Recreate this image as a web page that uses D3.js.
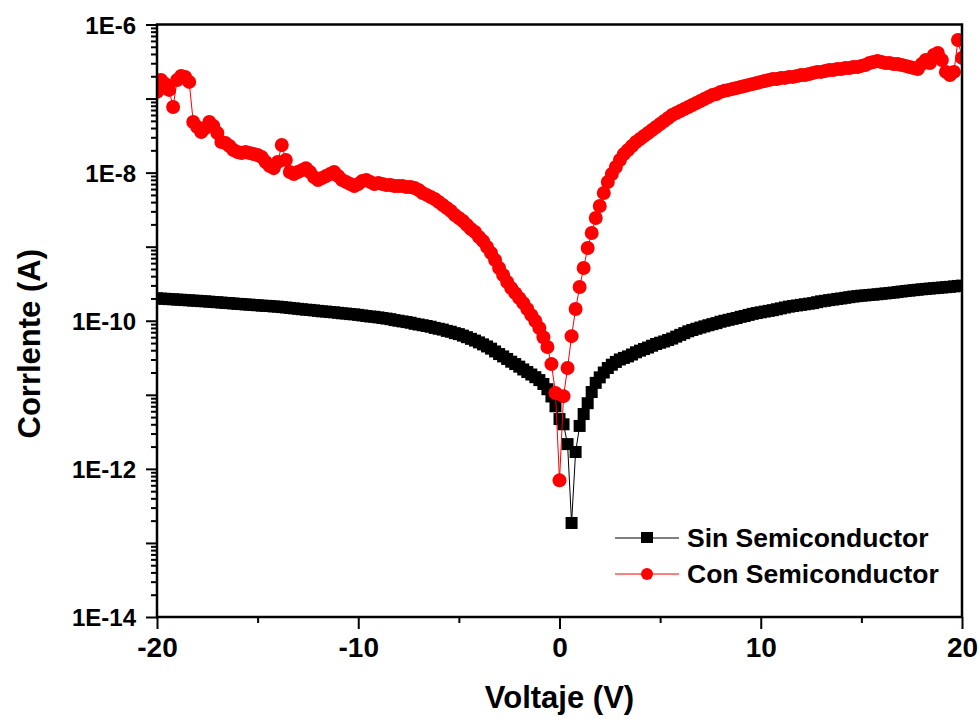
<!DOCTYPE html>
<html>
<head>
<meta charset="utf-8">
<script src="https://cdn.jsdelivr.net/npm/d3@7/dist/d3.min.js"></script>
<style>
  body { margin: 0; background: #fff; }
  svg { display: block; }
  text { font-family: "Liberation Sans", Arial, Helvetica, sans-serif; font-weight: bold; fill: #000; }
</style>
</head>
<body>
<svg id="chart" width="980" height="719"></svg>
<script>
// Voltage sweep (V), 0.2 V steps
const voltaje = [
  -20,-19.8,-19.6,-19.4,-19.2,-19,-18.8,-18.6,-18.4,-18.2,
  -18,-17.8,-17.6,-17.4,-17.2,-17,-16.8,-16.6,-16.4,-16.2,
  -16,-15.8,-15.6,-15.4,-15.2,-15,-14.8,-14.6,-14.4,-14.2,
  -14,-13.8,-13.6,-13.4,-13.2,-13,-12.8,-12.6,-12.4,-12.2,
  -12,-11.8,-11.6,-11.4,-11.2,-11,-10.8,-10.6,-10.4,-10.2,
  -10,-9.8,-9.6,-9.4,-9.2,-9,-8.8,-8.6,-8.4,-8.2,
  -8,-7.8,-7.6,-7.4,-7.2,-7,-6.8,-6.6,-6.4,-6.2,
  -6,-5.8,-5.6,-5.4,-5.2,-5,-4.8,-4.6,-4.4,-4.2,
  -4,-3.8,-3.6,-3.4,-3.2,-3,-2.8,-2.6,-2.4,-2.2,
  -2,-1.8,-1.6,-1.4,-1.2,-1,-0.8,-0.6,-0.4,-0.2,
  0,0.2,0.4,0.6,0.8,1,1.2,1.4,1.6,1.8,
  2,2.2,2.4,2.6,2.8,3,3.2,3.4,3.6,3.8,
  4,4.2,4.4,4.6,4.8,5,5.2,5.4,5.6,5.8,
  6,6.2,6.4,6.6,6.8,7,7.2,7.4,7.6,7.8,
  8,8.2,8.4,8.6,8.8,9,9.2,9.4,9.6,9.8,
  10,10.2,10.4,10.6,10.8,11,11.2,11.4,11.6,11.8,
  12,12.2,12.4,12.6,12.8,13,13.2,13.4,13.6,13.8,
  14,14.2,14.4,14.6,14.8,15,15.2,15.4,15.6,15.8,
  16,16.2,16.4,16.6,16.8,17,17.2,17.4,17.6,17.8,
  18,18.2,18.4,18.6,18.8,19,19.2,19.4,19.6,19.8,
  20
];

// Current (A) without semiconductor
const sinSemiconductor = [
  2.01e-10,1.99e-10,1.98e-10,1.96e-10,1.95e-10,1.93e-10,1.92e-10,1.90e-10,1.89e-10,1.87e-10,
  1.86e-10,1.84e-10,1.83e-10,1.81e-10,1.79e-10,1.78e-10,1.76e-10,1.74e-10,1.73e-10,1.71e-10,
  1.69e-10,1.68e-10,1.66e-10,1.65e-10,1.63e-10,1.62e-10,1.60e-10,1.59e-10,1.58e-10,1.56e-10,
  1.55e-10,1.53e-10,1.51e-10,1.49e-10,1.47e-10,1.45e-10,1.43e-10,1.41e-10,1.40e-10,1.38e-10,
  1.36e-10,1.34e-10,1.33e-10,1.31e-10,1.30e-10,1.28e-10,1.26e-10,1.25e-10,1.23e-10,1.22e-10,
  1.20e-10,1.18e-10,1.16e-10,1.14e-10,1.13e-10,1.11e-10,1.09e-10,1.07e-10,1.05e-10,1.02e-10,
  1.00e-10,9.8e-11,9.6e-11,9.4e-11,9.1e-11,8.9e-11,8.7e-11,8.5e-11,8.3e-11,8.0e-11,
  7.8e-11,7.6e-11,7.3e-11,7.1e-11,6.8e-11,6.6e-11,6.3e-11,6.0e-11,5.7e-11,5.4e-11,
  5.1e-11,4.8e-11,4.5e-11,4.2e-11,3.85e-11,3.55e-11,3.3e-11,3.05e-11,2.8e-11,2.6e-11,
  2.4e-11,2.2e-11,2.03e-11,1.88e-11,1.73e-11,1.58e-11,1.40e-11,1.19e-11,9.5e-12,7.0e-12,
  4.7e-12,4.0e-12,2.16e-12,1.86e-13,1.69e-12,3.8e-12,5.5e-12,7.7e-12,1.09e-11,1.45e-11,
  1.72e-11,2.0e-11,2.3e-11,2.55e-11,2.78e-11,3.0e-11,3.15e-11,3.3e-11,3.5e-11,3.75e-11,
  3.95e-11,4.15e-11,4.35e-11,4.6e-11,4.85e-11,5.05e-11,5.25e-11,5.5e-11,5.75e-11,6.1e-11,
  6.45e-11,6.8e-11,7.2e-11,7.5e-11,7.8e-11,8.1e-11,8.4e-11,8.7e-11,9.0e-11,9.3e-11,
  9.7e-11,1.00e-10,1.03e-10,1.06e-10,1.09e-10,1.13e-10,1.16e-10,1.20e-10,1.24e-10,1.27e-10,
  1.30e-10,1.33e-10,1.36e-10,1.39e-10,1.43e-10,1.47e-10,1.51e-10,1.55e-10,1.58e-10,1.61e-10,
  1.64e-10,1.67e-10,1.70e-10,1.73e-10,1.78e-10,1.83e-10,1.86e-10,1.90e-10,1.93e-10,1.97e-10,
  2.00e-10,2.04e-10,2.08e-10,2.12e-10,2.15e-10,2.18e-10,2.20e-10,2.23e-10,2.25e-10,2.28e-10,
  2.31e-10,2.34e-10,2.37e-10,2.40e-10,2.44e-10,2.48e-10,2.52e-10,2.55e-10,2.59e-10,2.62e-10,
  2.66e-10,2.69e-10,2.72e-10,2.75e-10,2.78e-10,2.81e-10,2.84e-10,2.87e-10,2.91e-10,2.95e-10,
  2.98e-10
];

// Current (A) with semiconductor
const conSemiconductor = [
  1.23e-7,1.78e-7,1.57e-7,1.31e-7,7.7e-8,1.78e-7,2.02e-7,1.96e-7,1.68e-7,4.82e-8,
  4.13e-8,3.54e-8,4.0e-8,4.82e-8,4.26e-8,3.43e-8,2.59e-8,2.51e-8,2.29e-8,2.02e-8,
  1.90e-8,1.84e-8,1.90e-8,1.84e-8,1.78e-8,1.73e-8,1.62e-8,1.39e-8,1.23e-8,1.15e-8,
  1.39e-8,2.36e-8,1.48e-8,1.02e-8,9.6e-9,1.02e-8,1.08e-8,1.15e-8,1.02e-8,8.7e-9,
  7.95e-9,8.45e-9,9.0e-9,9.6e-9,1.02e-8,9.0e-9,7.95e-9,7.46e-9,7.0e-9,6.6e-9,
  7.0e-9,7.7e-9,7.95e-9,7.46e-9,7.0e-9,7.24e-9,7.0e-9,6.8e-9,6.8e-9,6.6e-9,
  6.6e-9,6.6e-9,6.4e-9,6.4e-9,6.2e-9,5.83e-9,5.3e-9,5.0e-9,4.69e-9,4.41e-9,
  4.01e-9,3.66e-9,3.33e-9,3.03e-9,2.68e-9,2.44e-9,2.22e-9,1.96e-9,1.73e-9,1.58e-9,
  1.35e-9,1.19e-9,9.9e-10,8.2e-10,6.6e-10,5.15e-10,4.14e-10,3.33e-10,2.76e-10,2.36e-10,
  2.02e-10,1.73e-10,1.44e-10,1.19e-10,9.9e-11,7.98e-11,6.0e-11,4.42e-11,2.6e-11,1.06e-11,
  7.0e-13,9.6e-12,2.3e-11,6.2e-11,1.44e-10,2.85e-10,5.15e-10,9.6e-10,1.53e-9,2.44e-9,
  3.54e-9,5.3e-9,7.46e-9,9.6e-9,1.19e-8,1.48e-8,1.78e-8,2.02e-8,2.29e-8,2.59e-8,
  2.84e-8,3.12e-8,3.43e-8,3.76e-8,4.13e-8,4.53e-8,4.97e-8,5.46e-8,5.99e-8,6.38e-8,
  6.79e-8,7.23e-8,7.69e-8,8.19e-8,8.71e-8,9.27e-8,9.87e-8,1.05e-7,1.12e-7,1.15e-7,
  1.23e-7,1.27e-7,1.31e-7,1.35e-7,1.39e-7,1.43e-7,1.48e-7,1.53e-7,1.57e-7,1.62e-7,
  1.68e-7,1.73e-7,1.78e-7,1.84e-7,1.84e-7,1.90e-7,1.90e-7,1.96e-7,1.96e-7,2.02e-7,
  2.08e-7,2.08e-7,2.15e-7,2.22e-7,2.29e-7,2.29e-7,2.36e-7,2.43e-7,2.43e-7,2.51e-7,
  2.51e-7,2.59e-7,2.59e-7,2.67e-7,2.67e-7,2.76e-7,2.84e-7,3.02e-7,3.12e-7,3.22e-7,
  3.12e-7,3.02e-7,3.02e-7,2.93e-7,2.93e-7,2.84e-7,2.76e-7,2.67e-7,2.59e-7,2.51e-7,
  2.93e-7,3.32e-7,3.02e-7,3.88e-7,4.13e-7,3.32e-7,2.29e-7,2.08e-7,2.29e-7,6.18e-7,
  3.54e-7
];

// Axis ticks
const xMajorTicks = [-20, -10, 0, 10, 20];
const xMinorTicks = [-15, -5, 5, 15];
const yDecadeTicks = [1e-14, 1e-13, 1e-12, 1e-11, 1e-10, 1e-9, 1e-8, 1e-7, 1e-6];
const yLabelTicks = [1e-14, 1e-12, 1e-10, 1e-8, 1e-6];

const seriesNames = ["Sin Semiconductor", "Con Semiconductor"];
const seriesColors = ["#000000", "#ff0000"];

const svg = d3.select("#chart");
const margin = { left: 157, right: 18, top: 24.5, bottom: 102 };
const W = 980, H = 719;
const plotW = W - margin.left - margin.right;
const plotH = H - margin.top - margin.bottom;

const x = d3.scaleLinear().domain([-20, 20]).range([0, plotW]);
const y = d3.scaleLog().domain([1e-14, 1e-6]).range([plotH, 0]);

const g = svg.append("g").attr("transform", `translate(${margin.left},${margin.top})`);

g.append("defs").append("clipPath").attr("id", "plotClip")
  .append("rect").attr("x", 0).attr("y", 0).attr("width", plotW).attr("height", plotH);

// minor y ticks: 2..9 within each decade
const yMinorTicks = [];
yDecadeTicks.slice(0, -1).forEach(d => {
  for (let m = 2; m <= 9; m++) yMinorTicks.push(d * m);
});

function styleAxis(sel) {
  sel.select(".domain").remove();
  sel.selectAll(".tick line").attr("stroke", "#000").attr("stroke-width", 2);
}

// y axis
g.append("g").call(d3.axisLeft(y).tickValues(yMinorTicks).tickSize(6).tickFormat(""))
  .call(styleAxis);
g.append("g").call(
    d3.axisLeft(y).tickValues(yDecadeTicks).tickSize(11).tickPadding(10)
      .tickFormat(d => yLabelTicks.some(t => Math.abs(Math.log10(t) - Math.log10(d)) < 1e-6)
        ? "1E" + Math.round(Math.log10(d)) : ""))
  .call(styleAxis)
  .call(s => s.selectAll("text").style("font-size", "24px").attr("dy", "0.36em"));

// x axis
g.append("g").attr("transform", `translate(0,${plotH})`)
  .call(d3.axisBottom(x).tickValues(xMinorTicks).tickSize(6).tickFormat(""))
  .call(styleAxis);
g.append("g").attr("transform", `translate(0,${plotH})`)
  .call(d3.axisBottom(x).tickValues(xMajorTicks).tickSize(12).tickPadding(8).tickFormat(d => String(d)))
  .call(styleAxis)
  .call(s => s.selectAll("text").style("font-size", "28px"));

// data
const series = [sinSemiconductor, conSemiconductor].map((vals, k) => ({
  name: seriesNames[k],
  color: seriesColors[k],
  points: voltaje.map((v, i) => ({ v, c: vals[i] }))
}));

const line = d3.line().x(d => x(d.v)).y(d => y(d.c));
const plot = g.append("g").attr("clip-path", "url(#plotClip)");

// black squares
const s0 = series[0];
plot.append("path").datum(s0.points).attr("d", line)
  .attr("fill", "none").attr("stroke", s0.color).attr("stroke-width", 1);
plot.append("g").selectAll("rect").data(s0.points).join("rect")
  .attr("x", d => x(d.v) - 6).attr("y", d => y(d.c) - 6)
  .attr("width", 12).attr("height", 12).attr("fill", s0.color);

// red circles
const s1 = series[1];
plot.append("path").datum(s1.points).attr("d", line)
  .attr("fill", "none").attr("stroke", s1.color).attr("stroke-width", 1);
plot.append("g").selectAll("circle").data(s1.points).join("circle")
  .attr("cx", d => x(d.v)).attr("cy", d => y(d.c)).attr("r", 7)
  .attr("fill", s1.color);

// frame
g.append("rect").attr("x", 0).attr("y", 0).attr("width", plotW).attr("height", plotH)
  .attr("fill", "none").attr("stroke", "#000").attr("stroke-width", 2.5);

// axis titles
svg.append("text").attr("x", margin.left + plotW / 2).attr("y", 708)
  .attr("text-anchor", "middle").style("font-size", "31px").text("Voltaje (V)");
svg.append("text").attr("transform", `translate(40,${margin.top + plotH / 2 + 23}) rotate(-90)`)
  .attr("text-anchor", "middle").style("font-size", "31px").text("Corrlente (A)");

// legend
const legend = svg.append("g").attr("transform", "translate(615,538)");
series.forEach((s, k) => {
  const row = legend.append("g").attr("transform", `translate(0,${k * 36})`);
  row.append("line").attr("x1", 0).attr("x2", 64).attr("y1", 0).attr("y2", 0)
    .attr("stroke", s.color).attr("stroke-width", 1);
  if (k === 0) {
    row.append("rect").attr("x", 32 - 6).attr("y", -6).attr("width", 12).attr("height", 11).attr("fill", s.color);
  } else {
    row.append("circle").attr("cx", 32).attr("cy", 0).attr("r", 6).attr("fill", s.color);
  }
  row.append("text").attr("x", 72).attr("y", 9).style("font-size", "26.5px").text(s.name);
});
</script>
</body>
</html>
